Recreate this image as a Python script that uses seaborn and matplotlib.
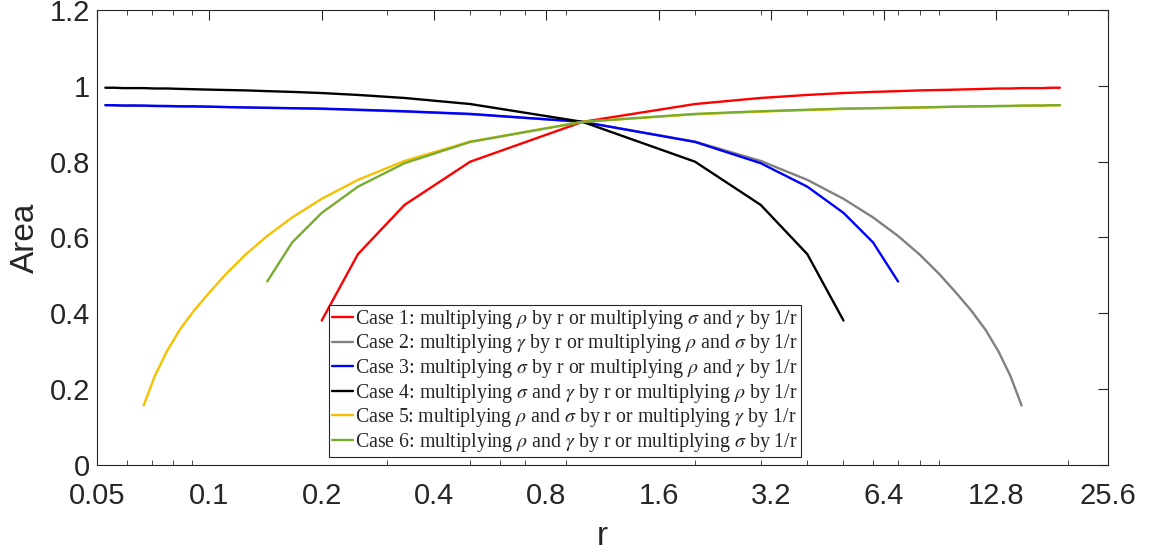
import numpy as np
import pandas as pd
import matplotlib
matplotlib.use("Agg")
import matplotlib.pyplot as plt
import matplotlib.ticker as mticker
import seaborn as sns

# r grid: 1/19 ... 1/2, 1, 2 ... 19
r_left = [1 / n for n in range(19, 1, -1)]
r_right = list(range(2, 20))

# values
case1_r = [1 / 5, 1 / 4, 1 / 3, 1 / 2, 1] + r_right
case1_area = [0.381, 0.556, 0.686, 0.800, 0.905,
              0.952, 0.968, 0.976, 0.981, 0.984, 0.986, 0.988, 0.989, 0.990,
              0.991, 0.992, 0.993, 0.993, 0.994, 0.994, 0.994, 0.995, 0.995]

case2_r = r_left + [1] + list(range(2, 16))
case2_area = [0.949, 0.948, 0.948, 0.948, 0.947, 0.947, 0.946, 0.946, 0.945,
              0.945, 0.944, 0.943, 0.942, 0.941, 0.939, 0.936, 0.932, 0.925,
              0.905,
              0.853, 0.802, 0.752, 0.702, 0.653, 0.604, 0.555, 0.505, 0.455,
              0.407, 0.357, 0.300, 0.235, 0.157]

case3_r = r_left + [1] + list(range(2, 8))
case3_area = [0.949, 0.949, 0.948, 0.948, 0.948, 0.947, 0.947, 0.946, 0.946,
              0.945, 0.944, 0.943, 0.942, 0.941, 0.940, 0.937, 0.933, 0.926,
              0.905,
              0.852, 0.796, 0.734, 0.665, 0.587, 0.484]

case4_r = r_left + [1, 2, 3, 4, 5]
case4_area = [0.995, 0.995, 0.994, 0.994, 0.994, 0.993, 0.993, 0.992, 0.991,
              0.990, 0.989, 0.988, 0.986, 0.984, 0.981, 0.976, 0.968, 0.952,
              0.905,
              0.800, 0.686, 0.556, 0.381]

case5_r = [1 / n for n in range(15, 1, -1)] + [1] + r_right
case5_area = [0.157, 0.235, 0.300, 0.357, 0.407, 0.455, 0.505, 0.555, 0.604,
              0.653, 0.702, 0.752, 0.802, 0.853,
              0.905,
              0.925, 0.932, 0.936, 0.939, 0.941, 0.942, 0.943, 0.944, 0.945,
              0.945, 0.946, 0.946, 0.947, 0.947, 0.948, 0.948, 0.948, 0.949]

case6_r = [1 / n for n in range(7, 1, -1)] + [1] + r_right
case6_area = [0.484, 0.587, 0.665, 0.734, 0.796, 0.852,
              0.905,
              0.926, 0.933, 0.937, 0.940, 0.941, 0.942, 0.943, 0.944, 0.945,
              0.946, 0.946, 0.947, 0.947, 0.948, 0.948, 0.948, 0.949, 0.949]

labels = [
    r"Case 1: multiplying $\rho$ by r or multiplying $\sigma$ and $\gamma$ by 1/r",
    r"Case 2: multiplying $\gamma$ by r or multiplying $\rho$ and $\sigma$ by 1/r",
    r"Case 3: multiplying $\sigma$ by r or multiplying $\rho$ and $\gamma$ by 1/r",
    r"Case 4: multiplying $\sigma$ and $\gamma$ by r or multiplying $\rho$ by 1/r",
    r"Case 5: multiplying $\rho$ and $\sigma$ by r or multiplying $\gamma$ by 1/r",
    r"Case 6: multiplying $\rho$ and $\gamma$ by r or multiplying $\sigma$ by 1/r",
]
colors = ["#FF0000", "#808080", "#0000FF", "#000000", "#F7C000", "#77AC30"]

xticks = [0.05, 0.1, 0.2, 0.4, 0.8, 1.6, 3.2, 6.4, 12.8, 25.6]
xticklabels = ["0.05", "0.1", "0.2", "0.4", "0.8", "1.6", "3.2", "6.4", "12.8", "25.6"]
yticks = [0, 0.2, 0.4, 0.6, 0.8, 1.0, 1.2]
yticklabels = ["0", "0.2", "0.4", "0.6", "0.8", "1", "1.2"]

sns.set_theme(style="white")
plt.rcParams["font.family"] = ["Liberation Sans", "DejaVu Sans"]
plt.rcParams["mathtext.fontset"] = "stix"

all_r = [case1_r, case2_r, case3_r, case4_r, case5_r, case6_r]
all_a = [case1_area, case2_area, case3_area, case4_area, case5_area, case6_area]
frames = []
for lab, rr, aa in zip(labels, all_r, all_a):
    frames.append(pd.DataFrame({"r": rr, "area": aa, "case": lab}))
df = pd.concat(frames, ignore_index=True)

fig = plt.figure(figsize=(11.55, 5.56), dpi=100)
ax = fig.add_axes([0.084, 0.1637, 0.8755, 0.8183])

sns.lineplot(data=df, x="r", y="area", hue="case", palette=colors,
             hue_order=labels, estimator=None, sort=False, linewidth=1.7, ax=ax)

ax.set_xscale("log")
ax.set_xlim(0.05, 25.6)
ax.set_ylim(0, 1.2)
ax.xaxis.set_major_locator(mticker.FixedLocator(xticks))
ax.xaxis.set_major_formatter(mticker.FixedFormatter(xticklabels))
ax.xaxis.set_minor_locator(mticker.LogLocator(base=10, subs=np.arange(2, 10)))
ax.xaxis.set_minor_formatter(mticker.NullFormatter())
ax.set_yticks(yticks)
ax.set_yticklabels(yticklabels)

ax.tick_params(axis="both", which="major", direction="in", length=7, width=0.8,
               color="#262626", labelsize=21, labelcolor="#262626",
               top=True, right=True)
ax.tick_params(axis="x", which="minor", direction="in", length=3.5, width=0.6,
               color="#262626", top=True, bottom=True)
ax.tick_params(axis="x", which="major", pad=12)
ax.tick_params(axis="y", which="major", pad=5)
for s in ax.spines.values():
    s.set_color("#262626")
    s.set_linewidth(0.8)

ax.set_xlabel("r", fontsize=24, color="#262626", labelpad=8)
ax.set_ylabel("Area", fontsize=24, color="#262626", labelpad=6)

leg = ax.legend(loc="lower left", bbox_to_anchor=(0.229, 0.018),
                prop={"family": "Liberation Serif", "size": 14.3},
                frameon=True, fancybox=False, framealpha=1, edgecolor="#262626",
                handlelength=1.1, handletextpad=0.1, borderpad=0.15,
                labelspacing=0.08, borderaxespad=0)
leg.get_frame().set_linewidth(0.8)
for line in leg.get_lines():
    line.set_linewidth(1.7)

fig.savefig("out.png", dpi=100)
